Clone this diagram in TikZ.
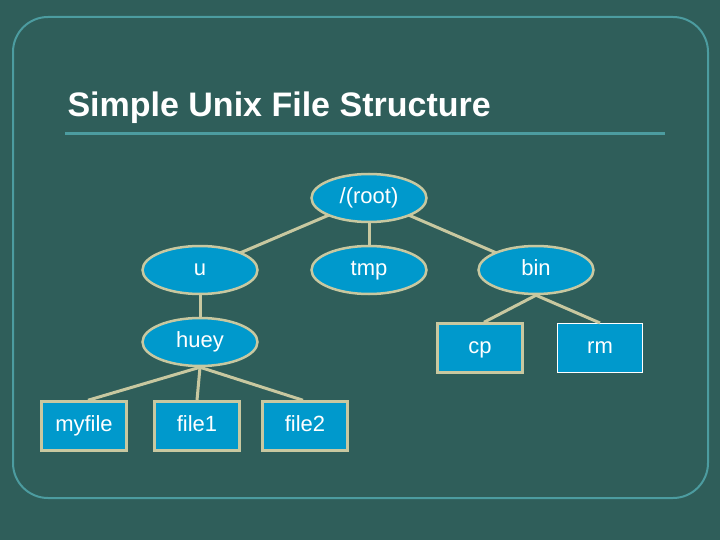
\documentclass[tikz,border=0pt]{standalone}
\usepackage{fontspec}
\setmainfont{Liberation Sans}
\usetikzlibrary{shapes.geometric}
\definecolor{bg}{HTML}{2F5E5A}
\definecolor{frame}{HTML}{4C9CA0}
\definecolor{nodefill}{HTML}{0099CC}
\definecolor{tan}{HTML}{C8C8A0}
\tikzset{
  dirn/.style={ellipse,draw=tan,line width=2.5pt,fill=nodefill,minimum width=115pt,minimum height=48pt,inner sep=0pt,text=white,text height=15pt,text depth=4pt,font=\fontsize{22}{26}\selectfont},
  filen/.style={rectangle,draw=tan,line width=2.5pt,fill=nodefill,minimum width=85pt,minimum height=49pt,inner sep=0pt,text=white,text height=15pt,text depth=4pt,font=\fontsize{22}{26}\selectfont},
  link/.style={draw=tan,line width=3pt}
}
\begin{document}
\begin{tikzpicture}[x=1pt,y=-1pt]
\fill[bg] (0,0) rectangle (720,540);
\useasboundingbox (0,0) rectangle (720,540);
\draw[frame,line width=2pt,rounded corners=35pt] (13,17) rectangle (708,498);
\node[anchor=west,text=white,font=\fontsize{34}{40}\selectfont\bfseries] (title) at (64,108) {Simple Unix File Structure};
\draw[frame,line width=3pt] (65,134) -- (665,134);
\draw[link] (369,198) -- (200,270);
\draw[link] (369,198) -- (369,270);
\draw[link] (369,198) -- (536,270);
\node[dirn] (root) at (369,198) {/(root)};
\node[dirn] (u) at (200,270) {u};
\node[dirn] (tmp) at (369,270) {tmp};
\node[dirn] (bin) at (536,270) {bin};
\node[dirn] (huey) at (200,342) {huey};
\node[filen] (cp) at (480,348) {cp};
\node[filen,draw=white,line width=1pt] (rm) at (600,348) {rm};
\node[filen] (myfile) at (84,426) {myfile};
\node[filen] (file1) at (197,426) {file1};
\node[filen] (file2) at (305,426) {file2};
\draw[link] (u.south) -- (huey.north);
\draw[link] (huey.south) -- ([xshift=4pt]myfile.north);
\draw[link] (huey.south) -- (file1.north);
\draw[link] (huey.south) -- ([xshift=-2pt]file2.north);
\draw[link] (bin.south) -- ([xshift=4pt]cp.north);
\draw[link] (bin.south) -- (rm.north);
\end{tikzpicture}
\end{document}
